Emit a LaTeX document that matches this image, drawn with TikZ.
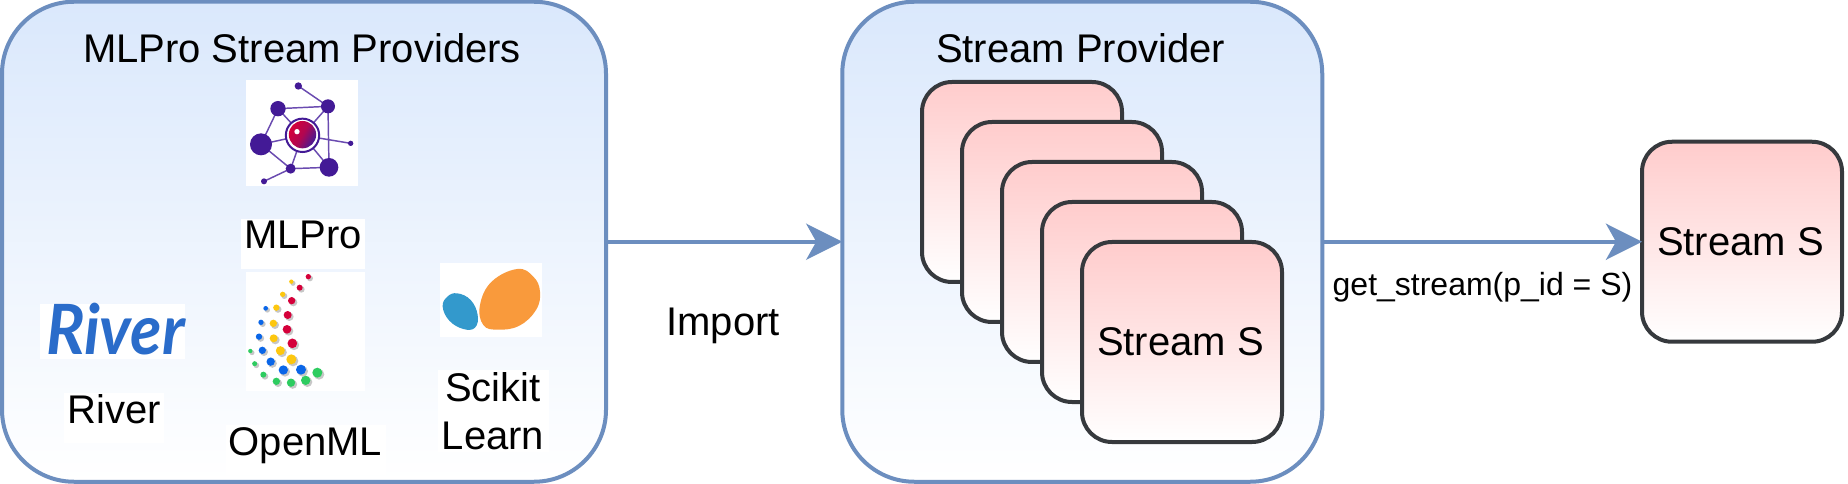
\documentclass[tikz,border=0pt]{standalone}
\usepackage{fontspec}
\setmainfont{Liberation Sans}
\newfontfamily\riverfont{Lato}
\usetikzlibrary{arrows.meta}
\definecolor{panelline}{HTML}{6C8EBF}
\definecolor{paneltop}{HTML}{DAE8FC}
\definecolor{cardtop}{HTML}{FFCCCC}
\definecolor{cardline}{HTML}{36393D}
\definecolor{logopurple}{HTML}{431A96}
\definecolor{logoedge}{HTML}{6A4BB0}
\definecolor{mlred}{HTML}{D5003A}
\definecolor{mlyellow}{HTML}{FDC70F}
\definecolor{mlblue}{HTML}{0A66E8}
\definecolor{mlgreen}{HTML}{2ECC60}
\definecolor{skblue}{HTML}{3399CC}
\definecolor{skorange}{HTML}{F99A3C}
\definecolor{riverblue}{HTML}{2A6CCA}
\tikzset{
  panelbox/.style={draw=panelline, line width=3pt, top color=paneltop, bottom color=white,
    rounded corners=54pt, minimum height=360pt, outer sep=0pt, inner sep=0pt},
  cardbox/.style={draw=cardline, line width=3pt, top color=cardtop, bottom color=white,
    rounded corners=22.5pt, minimum width=150pt, minimum height=150pt, outer sep=0pt, inner sep=0pt},
  bigtext/.style={font=\fontsize{30}{36}\selectfont, inner sep=0pt, anchor=base},
  smalltext/.style={font=\fontsize{24}{28}\selectfont, inner sep=0pt, anchor=base},
  labelbox/.style={bigtext, fill=white, text height=22.5pt, text depth=15pt},
  logobox/.style={fill=white, inner sep=0pt, outer sep=0pt},
  flow/.style={draw=panelline, line width=3pt, -{Stealth[length=27pt,width=27pt,inset=7.5pt]}},
  zoomunits/.style={x=0.25pt,y=-0.25pt},
  net/.style={draw=logoedge, line width=1.1pt},
}
\newcommand{\mldots}[2]{%
  \foreach \dx/\dy/\dr in {#2}{
    \fill[black, opacity=0.22] (\dx+5,\dy+5) circle[radius=\dr+1];
    \fill[#1] (\dx,\dy) circle[radius=\dr];
  }}
\begin{document}
\begin{tikzpicture}[x=0.75pt,y=-0.75pt]
\useasboundingbox (0,0) rectangle (1848,484);
\fill[white] (0,0) rectangle (1848,484);

% panels
\node[panelbox, minimum width=453pt] (providers) at (304,241.75) {};
\node[panelbox, minimum width=360pt] (provider) at (1082.25,241.75) {};

% titles
\node[bigtext] (providerstitle) at (302,63) {MLPro Stream Providers};
\node[bigtext] (providertitle) at (1080.5,63) {Stream Provider};

% logo boxes
\node[logobox, minimum width=84pt, minimum height=79.5pt] (mlprologo) at (302,133) {};
\node[logobox, minimum width=89.25pt, minimum height=89.25pt] (openmllogo) at (305.25,331.5) {};
\node[logobox, minimum width=108.75pt, minimum height=41.25pt] (riverlogo) at (112.5,331.5) {};
\node[logobox, minimum width=76.5pt, minimum height=55.5pt] (sklogo) at (491,300) {};

% MLPro logo
\begin{scope}[shift={(240,75)}, zoomunits]
  \coordinate (na) at (175,33);
  \coordinate (nb) at (114,101);
  \coordinate (nc) at (264,94);
  \coordinate (nd) at (63,208);
  \coordinate (ne) at (332,205);
  \coordinate (nf) at (152,281);
  \coordinate (ng) at (267,277);
  \coordinate (nh) at (72,319);
  \coordinate (nm) at (187.5,181);
  \draw[net] (na)--(nc) (nb)--(nc) (nb)--(nd) (nb)--(nm) (nc)--(nm) (nc)--(ng)
    (nd)--(nm) (nd)--(nf) (nf)--(nm) (nf)--(ng) (ng)--(nm) (nm)--(ne) (nf)--(nh);
  \foreach \p/\r in {na/11,nb/23,nc/21,nd/33,ne/8,nf/15,ng/28,nh/9}
    \fill[logopurple] (\p) circle[radius=\r];
  \draw[logopurple, line width=1.5pt, fill=white] (nm) circle[radius=50];
  \shade[left color=mlred!100!white, right color=logopurple, middle color=mlred!75!logopurple, shading angle=60]
    (187.5,179) circle[radius=41];
  \fill[white] (171,170) circle[radius=8];
\end{scope}

% OpenML logo
\begin{scope}[shift={(240,265)}, zoomunits]
  \mldots{mlred}{205/35/8,179/68/9,155/107/11,143/150/12,141/193/13,157/235/14.5}
  \mldots{mlyellow}{154/50/6.5,128/88/8,109/128/9.5,100/175/11,101/220/12,121/257/13.5,154/283/15}
  \mldots{mlblue}{77/130/7,63/172/8,57/215/9.5,67/256/11,92/290/12.5,130/315/14,183/314/15}
  \mldots{mlgreen}{31/258/6.5,44/296/7.5,70/329/9,109/349/11,153/353/12.5,197/346/14,232/323/15}
\end{scope}

% River logo
\node[inner sep=0pt, text=riverblue, anchor=base, xscale=0.93, font=\riverfont\bfseries\itshape\fontsize{52}{56}\selectfont] (rivermark) at (115.5,354) {River};

% Scikit logo
\begin{scope}[shift={(430,255)}, zoomunits]
  \fill[skblue] plot[smooth cycle, tension=0.7] coordinates
    {(38,155) (52,125) (82,115) (122,135) (143,180) (135,218) (100,222) (58,197)};
  \fill[skorange] plot[smooth cycle, tension=0.7] coordinates
    {(262,42) (310,65) (330,110) (318,165) (268,212) (205,224) (160,210) (150,150) (185,80)};
\end{scope}

% labels
\node[labelbox, minimum width=93pt] (mlprolabel) at (303,249) {MLPro};
\node[labelbox, minimum width=75pt] (riverlabel) at (114,423) {River};
\node[labelbox, minimum width=120pt] (openmllabel) at (305.5,455) {OpenML};
\node[fill=white, inner sep=0pt, align=center, minimum width=83.25pt, minimum height=61.5pt,
  font=\fontsize{30}{36}\selectfont] (sklabel) at (493,411) {Scikit\\Learn};

% stack of streams
\node[cardbox] (card1) at (1022,182) {};
\node[cardbox] (card2) at (1062,222) {};
\node[cardbox] (card3) at (1102,262) {};
\node[cardbox] (card4) at (1142,302) {};
\node[cardbox] (card5) at (1182,342) {};
\node[bigtext] (cardtext) at (1180.5,356) {Stream S};

% output
\node[cardbox] (stream) at (1742,241.75) {};
\node[bigtext] (streamtext) at (1740.5,256) {Stream S};

% connectors
\draw[flow] (providers.east) -- (provider.west);
\draw[flow] (provider.east) -- (stream.west);

\node[bigtext] (importlabel) at (723,335) {Import};
\node[smalltext] (getlabel) at (1482.5,296) {get\_stream(p\_id = S)};
\end{tikzpicture}
\end{document}
